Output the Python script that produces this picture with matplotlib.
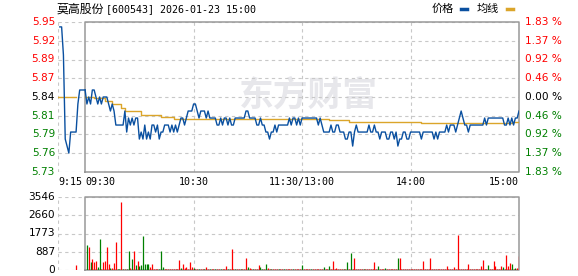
import numpy as np
import matplotlib
matplotlib.use("Agg")
import matplotlib.pyplot as plt
import matplotlib.transforms as mtransforms
from matplotlib.lines import Line2D

# ---- data ----
title_name = "莫高股份"
title_rest = "[600543] 2026-01-23 15:00"
prev_close = 5.84
price_lo = 5.733
price_hi = 5.947

price_labels = ["5.95", "5.92", "5.89", "5.87", "5.84", "5.81", "5.79", "5.76", "5.73"]
pct_labels = ["1.83 %", "1.37 %", "0.92 %", "0.46 %", "0.00 %", "0.46 %", "0.92 %", "1.37 %", "1.83 %"]
label_sign = [1, 1, 1, 1, 0, -1, -1, -1, -1]

vol_max = 3546
vol_labels = ["3546", "2660", "1773", "887", "0"]

x_tick_pos = [-15, 0, 60, 120, 180, 240]
x_tick_lab = ["9:15", "09:30", "10:30", "11:30/13:00", "14:00", "15:00"]
x_tick_ha = ["left", "left", "center", "center", "center", "right"]

# call auction 9:15-9:30 (minutes before 9:30)
pre_minute = [-14, -13, -12, -11, -10, -9, -8, -7, -6, -5, -4, -3, -2, -1, 0]
pre_price = [5.94, 5.94, 5.90, 5.78, 5.77, 5.76, 5.79, 5.79, 5.79, 5.79, 5.83, 5.85, 5.85, 5.85, 5.85]
pre_avg_minute = [-15, -5]
pre_avg = [5.84, 5.84]
pre_vol_minute = [-5]
pre_vol = [242]

# trading session, one value per minute (0 = 9:30, 120 = 11:30/13:00, 240 = 15:00)
price = [
    5.85, 5.83, 5.84, 5.83, 5.85, 5.85, 5.84, 5.83, 5.84, 5.83, 5.84, 5.84, 5.84, 5.83, 5.82, 5.83, 5.82, 5.80, 5.80, 5.80,
    5.80, 5.80, 5.82, 5.79, 5.81, 5.80, 5.81, 5.80, 5.81, 5.81, 5.78, 5.79, 5.78, 5.80, 5.78, 5.79, 5.78, 5.80, 5.80, 5.79,
    5.80, 5.78, 5.79, 5.79, 5.80, 5.80, 5.80, 5.79, 5.80, 5.79, 5.80, 5.79, 5.80, 5.81, 5.81, 5.80, 5.81, 5.82, 5.82, 5.82,
    5.83, 5.83, 5.82, 5.81, 5.82, 5.82, 5.82, 5.81, 5.82, 5.81, 5.81, 5.81, 5.81, 5.80, 5.80, 5.81, 5.80, 5.81, 5.81, 5.80,
    5.81, 5.80, 5.80, 5.81, 5.81, 5.81, 5.81, 5.81, 5.81, 5.82, 5.82, 5.81, 5.81, 5.81, 5.81, 5.80, 5.80, 5.81, 5.80, 5.80,
    5.79, 5.79, 5.78, 5.79, 5.79, 5.80, 5.79, 5.80, 5.80, 5.80, 5.80, 5.80, 5.80, 5.81, 5.80, 5.81, 5.81, 5.80, 5.81, 5.80,
    5.81, 5.81, 5.81, 5.81, 5.81, 5.81, 5.81, 5.81, 5.81, 5.80, 5.81, 5.80, 5.79, 5.79, 5.79, 5.79, 5.80, 5.79, 5.79, 5.80,
    5.80, 5.79, 5.79, 5.79, 5.78, 5.78, 5.79, 5.79, 5.77, 5.79, 5.80, 5.79, 5.79, 5.79, 5.79, 5.79, 5.79, 5.80, 5.79, 5.79,
    5.80, 5.79, 5.79, 5.78, 5.79, 5.79, 5.79, 5.78, 5.78, 5.79, 5.79, 5.78, 5.79, 5.77, 5.78, 5.78, 5.79, 5.79, 5.78, 5.78,
    5.79, 5.79, 5.79, 5.79, 5.79, 5.79, 5.78, 5.79, 5.79, 5.79, 5.79, 5.79, 5.79, 5.78, 5.79, 5.78, 5.79, 5.79, 5.79, 5.79,
    5.80, 5.79, 5.80, 5.80, 5.80, 5.79, 5.80, 5.81, 5.82, 5.81, 5.80, 5.80, 5.79, 5.80, 5.80, 5.80, 5.80, 5.80, 5.80, 5.80,
    5.80, 5.81, 5.80, 5.81, 5.81, 5.81, 5.81, 5.81, 5.81, 5.81, 5.81, 5.81, 5.80, 5.80, 5.81, 5.80, 5.81, 5.80, 5.81, 5.81,
    5.82,
]

# average price line, as steps (minute where a level starts, level)
avg_minute = [0, 5, 11, 15, 20, 22, 31, 42, 49, 135, 146, 186, 236, 240]
avg_value = [5.840, 5.838, 5.835, 5.830, 5.825, 5.820, 5.814, 5.811, 5.809, 5.807, 5.805, 5.803, 5.804, 5.804]

volume = [
    0, 1209, 1128, 403, 532, 371, 451, 161, 1499, 60, 371, 435, 1128, 290, 113, 80, 355, 1354, 30, 30,
    3305, 30, 30, 30, 919, 80, 532, 935, 242, 435, 193, 242, 1644, 274, 290, 290, 130, 290, 50, 50,
    50, 30, 935, 161, 50, 40, 40, 50, 40, 50, 40, 60, 484, 113, 290, 80, 130, 30, 387, 130,
    80, 40, 50, 40, 60, 40, 50, 145, 40, 30, 60, 40, 50, 40, 30, 60, 40, 50, 190, 40,
    50, 1016, 60, 40, 30, 50, 40, 60, 50, 596, 161, 100, 40, 50, 40, 60, 242, 130, 60, 40,
    290, 100, 40, 50, 40, 60, 40, 50, 40, 30, 50, 40, 60, 40, 50, 40, 60, 40, 50, 40,
    242, 40, 50, 40, 30, 50, 40, 60, 40, 50, 40, 60, 161, 40, 50, 193, 60, 451, 50, 113,
    40, 50, 40, 60, 40, 387, 50, 838, 40, 596, 60, 40, 50, 40, 60, 40, 50, 40, 60, 50,
    403, 40, 193, 50, 40, 60, 113, 40, 50, 40, 60, 40, 50, 596, 580, 40, 60, 40, 50, 40,
    50, 40, 60, 40, 50, 40, 60, 451, 40, 50, 40, 596, 40, 60, 40, 50, 40, 60, 40, 50,
    193, 40, 50, 60, 161, 40, 1693, 50, 40, 60, 40, 50, 290, 40, 60, 50, 40, 60, 40, 193,
    484, 40, 60, 242, 50, 40, 435, 193, 60, 40, 193, 161, 60, 725, 193, 322, 274, 60, 80, 100,
    677,
]
# r = up bar, g = down bar, one letter per minute
vol_dir = (
    "rgrgrrrggrrrrrgrrrgg"
    "rgrggrgrgrggggggrrrr"
    "rgggrrrrrrrrrgrrrrrr"
    "grrgrrgrrgrrgrrgrrrg"
    "rrrgrrgrrrgrrgrrrggr"
    "grrgrrrgrrgrrrrgrrrr"
    "grrrrgrrrrrrgrrgrrrr"
    "rrrgrgrgrrrrrrgrrrrr"
    "rrgrrrgrrrrrrgrrrrrr"
    "rrrrrrrrrrrrrrrrrrrr"
    "rrrrrrrrrrrrrrrrrrrr"
    "rrrgrrrrrrrgrrrrgrgrr"
)

# ---- styling ----
BLUE = "#0a50a0"
ORANGE = "#dba52a"
RED = "#ff0000"
GREEN = "#008000"
GRID = "#c8c8c8"
BOX = "#999999"
sign_color = {1: RED, 0: "#000000", -1: GREEN}
bar_color = {"r": RED, "g": GREEN}

W, H = 578, 276
fig = plt.figure(figsize=(W / 100, H / 100), dpi=100)


def fbox(left, top, right, bottom):
    return [left / W, 1 - bottom / H, (right - left) / W, (bottom - top) / H]


ax = fig.add_axes(fbox(58, 22, 519, 172))
axv = fig.add_axes(fbox(58, 197, 519, 270))

label_font = dict(family="DejaVu Sans", fontsize=7.6)
mono_font = dict(family="DejaVu Sans Mono", fontsize=7.2)

for a in (ax, axv):
    a.set_xlim(-15, 240)
    for s in a.spines.values():
        s.set_visible(False)
    a.set_xticks([])
    a.set_yticks([])

# ---- price panel ----
ax.set_ylim(price_lo, price_hi)
levels = np.linspace(price_hi, price_lo, len(price_labels))
ax.hlines(levels, -15, 240, colors=GRID, linestyles=(0, (3, 3)), linewidth=0.8, zorder=1)
ax.vlines([-15, 60, 120, 180], price_lo, price_hi, colors=GRID, linestyles=(0, (3, 3)),
          linewidth=0.8, zorder=1)
ax.plot([0, 240, 240, 0, 0], [price_lo, price_lo, price_hi, price_hi, price_lo],
        color=BOX, linewidth=1.1, clip_on=False, zorder=2)

# watermark
ax.text(308 / W, 1 - 95 / H, "东方财富", transform=fig.transFigure, ha="center", va="center",
        family="Noto Sans CJK SC", fontweight="bold", fontsize=25, color="#e7e7eb", zorder=0)

minutes = np.arange(len(price))
ax.plot(pre_avg_minute, pre_avg, color=ORANGE, linewidth=1.0, zorder=3)
ax.step(avg_minute, avg_value, where="post", color=ORANGE, linewidth=1.0, zorder=3)
ax.plot(pre_minute, pre_price, color=BLUE, linewidth=1.0, zorder=4)
ax.plot(minutes, price, color=BLUE, linewidth=1.0, zorder=4)

ytr = mtransforms.blended_transform_factory(ax.transAxes, ax.transData)
for lv, lab, pl, sg in zip(levels, price_labels, pct_labels, label_sign):
    ax.text(-3 / 461, lv, lab, transform=ytr, ha="right", va="center",
            color=sign_color[sg], **label_font)
    ax.text(1 + 6 / 461, lv, pl, transform=ytr, ha="left", va="center",
            color=sign_color[sg], **label_font)

xtr = mtransforms.blended_transform_factory(ax.transData, ax.transAxes)
for xp, lab, ha in zip(x_tick_pos, x_tick_lab, x_tick_ha):
    ax.text(xp, -10 / 150, lab, transform=xtr, ha=ha, va="center", color="#000000", **mono_font)

# ---- volume panel ----
axv.set_ylim(0, vol_max)
vlev = np.linspace(vol_max, 0, len(vol_labels))
axv.hlines(vlev, -15, 240, colors=GRID, linestyles=(0, (3, 3)), linewidth=0.8, zorder=1)
axv.vlines([-15, 60, 120, 180], 0, vol_max, colors=GRID, linestyles=(0, (3, 3)),
           linewidth=0.8, zorder=1)
axv.plot([0, 240, 240, 0, 0], [0, 0, vol_max, vol_max, 0], color=BOX, linewidth=1.1,
         clip_on=False, zorder=2)
axv.vlines(np.arange(len(volume)), 0, volume, colors=[bar_color[c] for c in vol_dir],
           linewidth=0.9, zorder=3)
axv.vlines(pre_vol_minute, 0, pre_vol, colors=RED, linewidth=0.9, zorder=3)

vtr = mtransforms.blended_transform_factory(axv.transAxes, axv.transData)
for lv, lab in zip(vlev, vol_labels):
    axv.text(-3 / 461, lv, lab, transform=vtr, ha="right", va="center", color="#000000", **label_font)

# ---- title and legend ----
fig.text(57 / W, 1 - 9 / H, title_name, ha="left", va="center",
         family="Noto Sans CJK SC", fontsize=8.6, color="#000000")
fig.text(106 / W, 1 - 9 / H, title_rest, ha="left", va="center",
         family="DejaVu Sans Mono", fontsize=7.2, color="#000000")
fig.text(432 / W, 1 - 9 / H, "价格", ha="left", va="center", family="Noto Sans CJK SC",
         fontsize=8, color="#000000")
fig.text(477 / W, 1 - 9 / H, "均线", ha="left", va="center", family="Noto Sans CJK SC",
         fontsize=8, color="#000000")
fig.add_artist(Line2D([461 / W, 467 / W], [1 - 9 / H, 1 - 9 / H], color=BLUE, linewidth=2.5))
fig.add_artist(Line2D([507 / W, 513 / W], [1 - 9 / H, 1 - 9 / H], color=ORANGE, linewidth=2.5))

fig.savefig("out.png", dpi=100)
